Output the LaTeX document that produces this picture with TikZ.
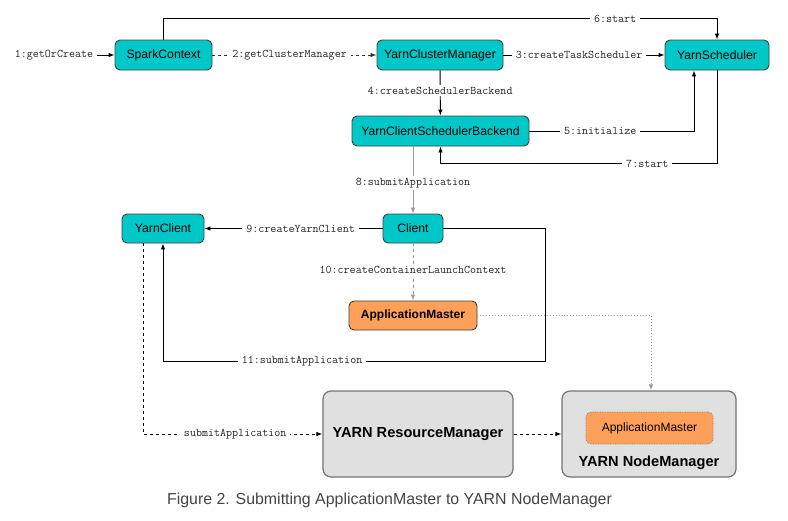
\documentclass[tikz,border=0pt]{standalone}
\usepackage{fontspec}
\setmainfont{Liberation Sans}
\usetikzlibrary{arrows.meta,calc}
\definecolor{teal1}{HTML}{00C8C8}
\definecolor{orange1}{HTML}{FFA05A}
\definecolor{gbox}{HTML}{E0E0E0}
\definecolor{gline}{HTML}{999999}
\definecolor{capgray}{HTML}{454545}
\tikzset{
  cls/.style={draw=black!75, fill=teal1, rounded corners=5pt, line width=0.9pt, font=\fontsize{12.2}{14}\selectfont, inner sep=0pt},
  amstyle/.style={draw=black!75, fill=orange1, rounded corners=5pt, line width=0.9pt, font=\fontsize{12}{14}\selectfont\bfseries, inner sep=0pt},
  bigbox/.style={draw=black!55, fill=gbox, rounded corners=8pt, line width=1.2pt, inner sep=0pt},
  innerbox/.style={draw=black!50, densely dotted, fill=orange1, rounded corners=5pt, line width=0.7pt, font=\fontsize{12}{14}\selectfont, inner sep=0pt},
  lbl/.style={fill=white, font=\ttfamily\fontsize{11.7}{13}\selectfont, text=black!85, inner xsep=4pt, inner ysep=2pt},
  conn/.style={line width=0.9pt, -{Latex[length=6pt,width=4.5pt]}},
}
\begin{document}
\begin{tikzpicture}[x=1pt,y=-1pt]
\useasboundingbox (0,0) rectangle (788,520);
% nodes
\node[cls, minimum width=97pt, minimum height=30pt] (sc) at (163.5,55) {SparkContext};
\node[cls, minimum width=126pt, minimum height=30pt] (ycm) at (440,55) {YarnClusterManager};
\node[cls, minimum width=104pt, minimum height=30pt] (ys) at (717,55) {YarnScheduler};
\node[cls, minimum width=177pt, minimum height=30pt] (ycsb) at (440.5,131) {YarnClientSchedulerBackend};
\node[cls, minimum width=60pt, minimum height=29pt] (client) at (413,228.5) {Client};
\node[cls, minimum width=82pt, minimum height=29pt] (yc) at (163,228.5) {YarnClient};
\node[amstyle, minimum width=128pt, minimum height=29pt] (am) at (413,315.5) {ApplicationMaster};
\node[bigbox, minimum width=190pt, minimum height=86pt, font=\fontsize{14.6}{16}\selectfont\bfseries] (rm) at (418,434) {YARN ResourceManager};
\node[bigbox, minimum width=174pt, minimum height=86pt] (nm) at (649,434) {};
\node[innerbox, minimum width=127pt, minimum height=32pt] (am2) at (649.5,428) {ApplicationMaster};
\node[font=\fontsize{14.6}{16}\selectfont\bfseries, inner sep=0pt] (nmlbl) at (649,463) {YARN NodeManager};
\node[lbl, fill=none] (l1) at (54,55) {1:getOrCreate};
\coordinate (c11) at (545,361);
% connectors
\draw[conn] (l1) -- (sc);
\draw[conn, dashed, black!80] (sc) -- (ycm) node[lbl, pos=0.47] {2:getClusterManager};
\draw[conn] (ycm) -- (ys) node[lbl, pos=0.47] {3:createTaskScheduler};
\draw[conn] (ycm) -- (ycsb) node[lbl, pos=0.45] {4:createSchedulerBackend};
\draw[conn] (ycsb.east) -| ([xshift=-23pt]ys.south) node[lbl, pos=0.215] {5:initialize};
\draw[conn] (sc.north) -- ++(0,-21) -| (ys.north) node[lbl, pos=0.408] {6:start};
\draw[conn] (ys.south) -- ++(0,93) -| (ycsb.south) node[lbl, pos=0.126] {7:start};
\draw[conn, draw=gline] (ycsb.south -| client.north) -- (client.north) node[lbl, pos=0.55] {8:submitApplication};
\draw[conn] (client) -- (yc) node[lbl, pos=0.46] {9:createYarnClient};
\draw[conn, dashed, draw=gline] (client) -- (am) node[lbl, pos=0.47] {10:createContainerLaunchContext};
\draw[conn] (client.east) -| (c11) -| (yc.south) node[lbl, pos=0.318] {11:submitApplication};
\draw[conn, dotted, draw=gline] (am.east) -| ([xshift=2pt]nm.north);
\draw[conn, dashed] ([xshift=-20pt]yc.south) |- (rm.west) node[lbl, pos=0.757] {submitApplication};
\draw[conn, dashed] (rm) -- (nm);
% caption
\node[text=capgray, font=\fontsize{15.9}{18}\selectfont, inner sep=0pt] (cap) at (389.5,500) {Figure 2. Submitting ApplicationMaster to YARN NodeManager};
\end{tikzpicture}
\end{document}
